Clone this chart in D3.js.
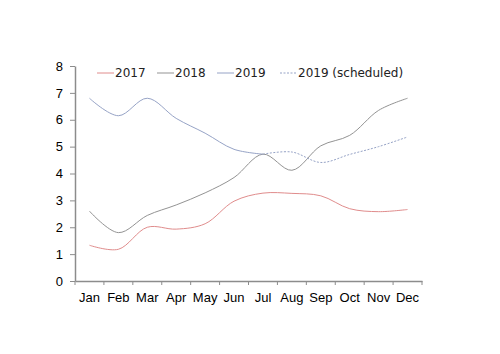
<!DOCTYPE html>
<html>
<head>
<meta charset="utf-8">
<script src="https://cdn.jsdelivr.net/npm/d3@7"></script>
<style>
  body { margin: 0; background: #fff; }
  svg { display: block; font-family: 'DejaVu Sans', sans-serif; }
</style>
</head>
<body>
<div id="chart"></div>
<script>
const MONTHS = ['Jan', 'Feb', 'Mar', 'Apr', 'May', 'Jun', 'Jul', 'Aug', 'Sep', 'Oct', 'Nov', 'Dec'];
const Y_TICKS = [0, 1, 2, 3, 4, 5, 6, 7, 8];
const VALUES_2017 = [1.33, 1.18, 2.0, 1.93, 2.13, 2.97, 3.27, 3.26, 3.17, 2.69, 2.58, 2.66];
const VALUES_2018 = [2.6, 1.8, 2.44, 2.83, 3.28, 3.85, 4.72, 4.12, 5.03, 5.42, 6.35, 6.8];
const VALUES_2019 = [6.8, 6.15, 6.8, 6.05, 5.5, 4.9, 4.72];
const VALUES_2019_SCHEDULED = [4.72, 4.8, 4.41, 4.71, 5.0, 5.36];
const SCHEDULED_START = 6; // Jul

const MARGIN = { top: 66, right: 78, bottom: 73, left: 75 };
const WIDTH = 500, HEIGHT = 354;
const AXIS_COLOR = '#8c8c8c';

const series = [
  { name: '2017', color: '#e08c8c', dash: null, points: VALUES_2017.map((v, i) => [MONTHS[i], v]) },
  { name: '2018', color: '#939393', dash: null, points: VALUES_2018.map((v, i) => [MONTHS[i], v]) },
  { name: '2019', color: '#96a3c6', dash: null, points: VALUES_2019.map((v, i) => [MONTHS[i], v]) },
  { name: '2019 (scheduled)', color: '#96a3c6', dash: '2,1.5',
    points: VALUES_2019_SCHEDULED.map((v, i) => [MONTHS[SCHEDULED_START + i], v]) }
];

const svg = d3.select('#chart').append('svg')
  .attr('width', WIDTH)
  .attr('height', HEIGHT);

const x = d3.scaleBand()
  .domain(MONTHS)
  .range([MARGIN.left, WIDTH - MARGIN.right]);

const y = d3.scaleLinear()
  .domain([0, 8])
  .range([HEIGHT - MARGIN.bottom, MARGIN.top]);

// y axis
const yAxis = svg.append('g')
  .attr('transform', `translate(${MARGIN.left}, 0)`)
  .call(d3.axisLeft(y).tickValues(Y_TICKS).tickSize(5).tickPadding(7).tickSizeOuter(0));

// x axis, ticks on band edges
const xAxis = svg.append('g')
  .attr('transform', `translate(0, ${HEIGHT - MARGIN.bottom})`)
  .call(d3.axisBottom(x).tickSize(0).tickPadding(12));

xAxis.selectAll('.edge')
  .data(d3.range(MONTHS.length + 1))
  .enter().append('line')
  .attr('class', 'edge')
  .attr('x1', i => MARGIN.left + i * x.step())
  .attr('x2', i => MARGIN.left + i * x.step())
  .attr('y1', 0)
  .attr('y2', 4)
  .attr('stroke', AXIS_COLOR);

[yAxis, xAxis].forEach(g => {
  g.select('.domain').attr('stroke', AXIS_COLOR).attr('stroke-width', 1.5);
  g.selectAll('.tick line').attr('stroke', AXIS_COLOR);
  g.selectAll('.tick text').attr('fill', '#000').style('font-size', '13px');
});

const line = d3.line()
  .x(d => x(d[0]) + x.bandwidth() / 2)
  .y(d => y(d[1]))
  .curve(d3.curveCatmullRom.alpha(0.5));

svg.append('g')
  .selectAll('path')
  .data(series)
  .enter().append('path')
  .attr('fill', 'none')
  .attr('stroke', d => d.color)
  .attr('stroke-width', 1)
  .attr('stroke-dasharray', d => d.dash)
  .attr('d', d => line(d.points));

// legend
const LEGEND_X = [97, 157, 217, 280];
const legend = svg.append('g')
  .selectAll('g')
  .data(series)
  .enter().append('g')
  .attr('transform', (d, i) => `translate(${LEGEND_X[i]}, 73)`);

legend.append('line')
  .attr('x1', 0).attr('x2', 17)
  .attr('stroke', d => d.color)
  .attr('stroke-dasharray', d => d.dash);

legend.append('text')
  .attr('x', 18)
  .attr('dy', '0.35em')
  .style('font-size', '12px')
  .attr('fill', '#222')
  .text(d => d.name);
</script>
</body>
</html>
